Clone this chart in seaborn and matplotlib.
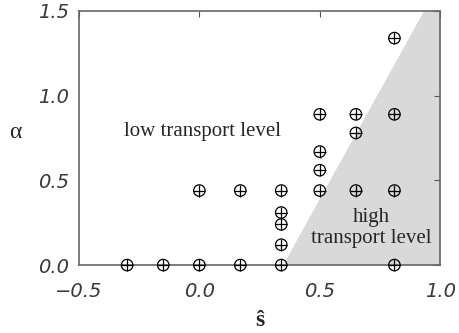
import numpy as np
import pandas as pd
import matplotlib
matplotlib.use("Agg")
import matplotlib.pyplot as plt
import seaborn as sns

# measured points (s-hat, alpha)
s_hat = [-0.30, -0.15, 0.00, 0.17, 0.34, 0.81,
         0.00, 0.17, 0.34, 0.50, 0.65, 0.81,
         0.34, 0.34, 0.34,
         0.50, 0.50, 0.50,
         0.65, 0.65,
         0.81, 0.81]
alpha = [0.00, 0.00, 0.00, 0.00, 0.00, 0.00,
         0.44, 0.44, 0.44, 0.44, 0.44, 0.44,
         0.12, 0.24, 0.31,
         0.56, 0.67, 0.89,
         0.78, 0.89,
         0.89, 1.34]

# boundary of the high transport region
boundary_alpha = [0.0, 1.5]
boundary_s = [0.345, 0.93]

x_ticks = [-0.5, 0.0, 0.5, 1.0]
y_ticks = [0.0, 0.5, 1.0, 1.5]

df = pd.DataFrame({"s": s_hat, "alpha": alpha})

sns.set_style("white")
plt.rcParams["font.family"] = ["Liberation Serif", "DejaVu Serif"]

fig = plt.figure(figsize=(4.59, 3.33), dpi=100)
ax = fig.add_axes([0.172, 0.204, 0.787, 0.763])

ax.fill_betweenx(boundary_alpha, boundary_s, [1.0, 1.0],
                 color="#d9d9d9", lw=0, zorder=0)

sns.scatterplot(data=df, x="s", y="alpha", ax=ax, marker="o", s=68,
                facecolor="none", edgecolor="black", linewidth=0.9,
                clip_on=False, zorder=5)
sns.scatterplot(data=df, x="s", y="alpha", ax=ax, marker="+", s=68,
                color="black", linewidth=0.9, clip_on=False, zorder=5)

ax.set_xlim(-0.5, 1.0)
ax.set_ylim(0.0, 1.5)
ax.set_xticks(x_ticks)
ax.set_yticks(y_ticks)
ax.set_xticklabels([f"{v:.1f}".replace("-", "\u2212") for v in x_ticks])
ax.set_yticklabels([f"{v:.1f}" for v in y_ticks])
for lab in ax.get_xticklabels() + ax.get_yticklabels():
    lab.set_family(["DejaVu Sans"])
    lab.set_style("oblique")
    lab.set_fontsize(14)
    lab.set_color("#3a3a3a")

ax.tick_params(axis="both", direction="in", length=4, width=0.8,
               color="#555555", top=True, right=True)
ax.tick_params(axis="x", pad=12)
ax.tick_params(axis="y", pad=7)

for sp in ax.spines.values():
    sp.set_visible(True)
    sp.set_color("#666666")
    sp.set_linewidth(1.2)

ax.set_xlabel("\u015d", fontsize=17, fontweight="bold", labelpad=7)
ax.set_ylabel("\u03b1", fontsize=17, rotation=0, va="center", ha="center")
ax.yaxis.set_label_coords(-0.177, 0.52)

ax.text(0.013, 0.79, "low transport level", fontsize=15,
        ha="center", va="center")
ax.text(0.713, 0.22, "high\ntransport level", fontsize=15,
        ha="center", va="center", linespacing=1.1)

fig.savefig("out.png", dpi=100)
